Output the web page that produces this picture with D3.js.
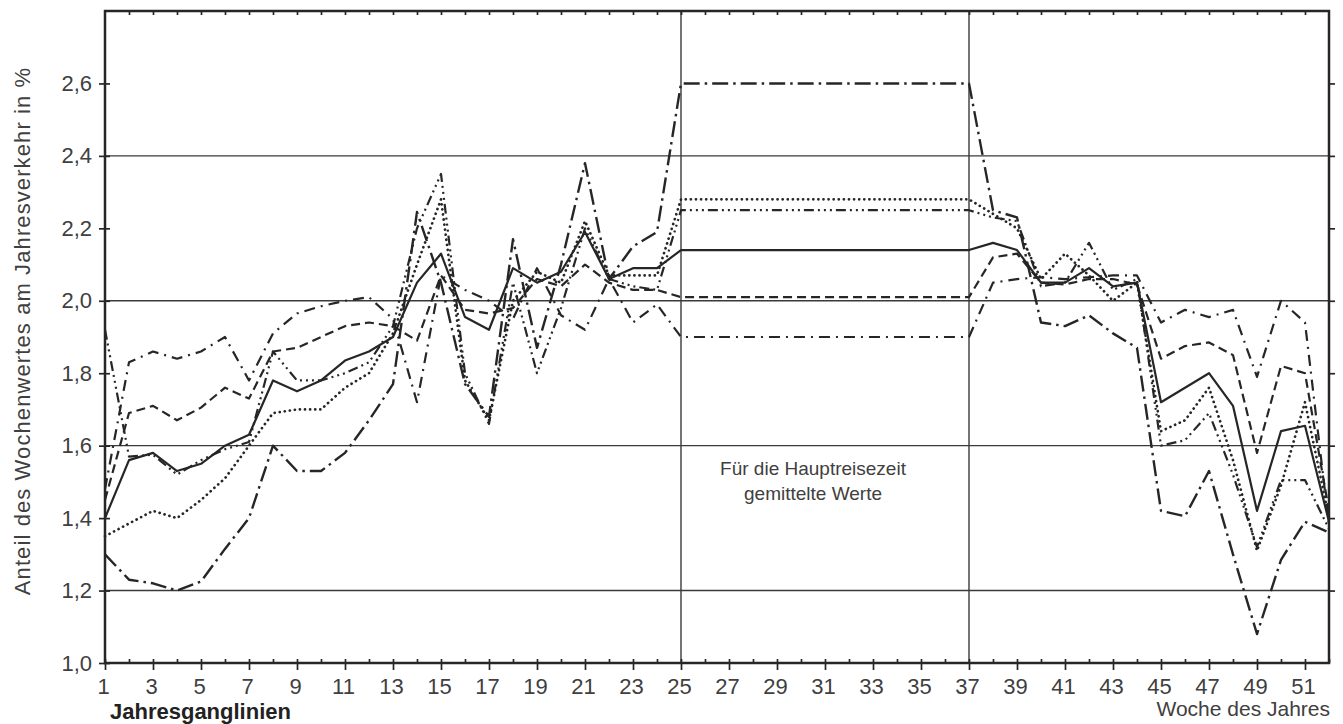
<!DOCTYPE html>
<html>
<head>
<meta charset="utf-8">
<script src="https://cdn.jsdelivr.net/npm/d3@7"></script>
<style>
  body { margin: 0; background: #fff; }
  svg text { font-family: "Liberation Sans", Arial, Helvetica, sans-serif; }
</style>
</head>
<body>
<svg id="chart"></svg>
<script>
// weeks that carry a value; 25..37 is the averaged main travel season
const weeks = [1, 2, 3, 4, 5, 6, 7, 8, 9, 10, 11, 12, 13, 14, 15, 16, 17, 18, 19, 20, 21, 22, 23, 24, 25,
  37, 38, 39, 40, 41, 42, 43, 44, 45, 46, 47, 48, 49, 50, 51, 52];

// share of the weekly value in the annual traffic, in %
const solidValues = [1.40, 1.56, 1.58, 1.53, 1.55, 1.60, 1.63, 1.78, 1.75, 1.78, 1.835, 1.86, 1.90, 2.05, 2.13, 1.955, 1.92, 2.09, 2.05, 2.08, 2.19, 2.06, 2.09, 2.09, 2.14,
  2.14, 2.16, 2.14, 2.05, 2.05, 2.09, 2.04, 2.05, 1.72, 1.76, 1.80, 1.71, 1.42, 1.64, 1.655, 1.39];
const dottedValues = [1.35, 1.385, 1.42, 1.40, 1.45, 1.51, 1.60, 1.69, 1.70, 1.70, 1.76, 1.80, 1.91, 2.10, 2.28, 1.78, 1.67, 2.00, 2.08, 2.05, 2.22, 2.07, 2.07, 2.07, 2.28,
  2.28, 2.24, 2.20, 2.06, 2.13, 2.07, 2.00, 2.05, 1.64, 1.67, 1.76, 1.56, 1.31, 1.49, 1.72, 1.40];
const dashedValues = [1.45, 1.69, 1.71, 1.67, 1.705, 1.76, 1.73, 1.86, 1.87, 1.90, 1.93, 1.94, 1.93, 1.89, 2.07, 1.975, 1.965, 1.98, 2.06, 2.04, 2.10, 2.05, 2.03, 2.03, 2.01,
  2.01, 2.12, 2.13, 2.05, 2.045, 2.06, 2.06, 2.045, 1.84, 1.875, 1.885, 1.85, 1.58, 1.82, 1.80, 1.42];
const longDashDotValues = [1.30, 1.23, 1.22, 1.20, 1.225, 1.315, 1.40, 1.60, 1.53, 1.53, 1.58, 1.67, 1.77, 2.245, 2.05, 1.77, 1.68, 2.17, 1.87, 2.10, 2.38, 2.06, 2.15, 2.19, 2.60,
  2.60, 2.25, 2.23, 1.94, 1.93, 1.96, 1.91, 1.87, 1.42, 1.405, 1.53, 1.30, 1.08, 1.285, 1.39, 1.36];
const dashDotsValues = [1.92, 1.57, 1.575, 1.52, 1.56, 1.59, 1.61, 1.86, 1.78, 1.78, 1.80, 1.83, 1.93, 2.20, 2.35, 1.80, 1.66, 2.05, 1.80, 1.98, 2.20, 2.06, 2.04, 2.03, 2.25,
  2.25, 2.23, 2.22, 2.04, 2.05, 2.16, 2.03, 2.06, 1.60, 1.615, 1.69, 1.52, 1.32, 1.505, 1.505, 1.37];
const dashDotValues = [1.48, 1.83, 1.86, 1.84, 1.86, 1.90, 1.78, 1.91, 1.965, 1.985, 2.00, 2.01, 1.95, 1.72, 2.07, 2.03, 2.00, 1.95, 2.09, 1.96, 1.92, 2.06, 1.94, 1.99, 1.90,
  1.90, 2.05, 2.06, 2.065, 2.06, 2.065, 2.07, 2.07, 1.94, 1.975, 1.955, 1.975, 1.79, 2.00, 1.94, 1.38];

const yTicks = [1.0, 1.2, 1.4, 1.6, 1.8, 2.0, 2.2, 2.4, 2.6];
const gridValues = [1.2, 1.6, 2.0, 2.4];
const xLabelWeeks = d3.range(1, 52, 2);
const seasonBounds = [25, 37];

// line styles of the six curves
const series = [
  { values: dashedValues, dash: "9,5", width: 2.2 },
  { values: dashDotValues, dash: "11,6,2,6", width: 2.2 },
  { values: dashDotsValues, dash: "10,4,2,4,2,4,2,4", width: 2.2 },
  { values: longDashDotValues, dash: "16,5,2.5,5", width: 2.4 },
  { values: dottedValues, dash: "0.1,5", width: 2.7, cap: "round" },
  { values: solidValues, dash: null, width: 2.2 }
];

const margin = { top: 11, right: 14, bottom: 61, left: 105 },
  width = 1343 - margin.left - margin.right,
  height = 724 - margin.top - margin.bottom;

const root = d3.select("#chart")
  .attr("width", width + margin.left + margin.right)
  .attr("height", height + margin.top + margin.bottom);

const svg = root.append("g")
  .attr("transform", "translate(" + margin.left + "," + margin.top + ")");

const x = d3.scaleLinear().domain([1, 52]).range([0, width]);
const y = d3.scaleLinear().domain([1.0, 2.8]).range([height, 0]);

const ink = "#262626";
const textInk = "#404040";

// horizontal grid lines
svg.append("g").selectAll("line")
  .data(gridValues).join("line")
    .attr("x1", 0).attr("x2", width)
    .attr("y1", d => y(d)).attr("y2", d => y(d))
    .attr("stroke", "#3a3a3a").attr("stroke-width", 1.4);

// borders of the averaged season
svg.append("g").selectAll("line")
  .data(seasonBounds).join("line")
    .attr("x1", d => x(d)).attr("x2", d => x(d))
    .attr("y1", 0).attr("y2", height)
    .attr("stroke", "#3a3a3a").attr("stroke-width", 1.4);

// curves
const line = d3.line()
  .x(d => x(d.week))
  .y(d => y(d.value));

svg.append("g").selectAll("path")
  .data(series).join("path")
    .attr("d", s => line(weeks.map((w, i) => ({ week: w, value: s.values[i] }))))
    .attr("fill", "none")
    .attr("stroke", ink)
    .attr("stroke-width", s => s.width)
    .attr("stroke-dasharray", s => s.dash)
    .attr("stroke-linecap", s => s.cap || "butt")
    .attr("stroke-linejoin", "round");

// axes
const fmt = d => d3.format(".1f")(d).replace(".", ",");

function styleAxis(g) {
  g.select(".domain").remove();
  g.selectAll("line").attr("stroke", ink).attr("stroke-width", 1.7);
  g.selectAll("text")
    .attr("fill", textInk)
    .attr("font-size", 22)
    .attr("font-family", "'Liberation Sans', Arial, Helvetica, sans-serif");
}

svg.append("g")
  .call(d3.axisLeft(y).tickValues(yTicks).tickFormat(fmt).tickSize(6).tickPadding(7))
  .call(styleAxis);
svg.append("g")
  .call(d3.axisLeft(y).tickValues(yTicks).tickFormat("").tickSize(-5))
  .call(styleAxis);

svg.append("g")
  .attr("transform", "translate(" + width + ",0)")
  .call(d3.axisRight(y).tickValues(yTicks.slice(1)).tickFormat("").tickSize(6))
  .call(styleAxis);

svg.append("g")
  .attr("transform", "translate(0," + height + ")")
  .call(d3.axisBottom(x).tickValues(xLabelWeeks).tickFormat(d3.format("d")).tickSize(7).tickPadding(8))
  .call(styleAxis)
  .call(g => g.selectAll("text").attr("dx", -2));
svg.append("g")
  .attr("transform", "translate(0," + height + ")")
  .call(d3.axisBottom(x).tickValues(d3.range(1, 53)).tickFormat("").tickSize(-4))
  .call(styleAxis);

svg.append("g")
  .call(d3.axisTop(x).tickValues(d3.range(2, 52)).tickFormat("").tickSize(-4))
  .call(styleAxis);

// frame
svg.append("rect")
  .attr("x", 0).attr("y", 0)
  .attr("width", width).attr("height", height)
  .attr("fill", "none")
  .attr("stroke", ink)
  .attr("stroke-width", 2.5);

// annotation for the averaged season
const noteX = x(30.5);
const note = svg.append("text")
  .attr("text-anchor", "middle")
  .attr("font-size", 19)
  .attr("fill", textInk)
  .attr("x", noteX)
  .attr("y", 464);
note.append("tspan").text("Für die Hauptreisezeit");
note.append("tspan").attr("x", noteX).attr("dy", 25).text("gemittelte Werte");

// axis titles
root.append("text")
  .attr("transform", "translate(30," + (margin.top + height / 2 - 6) + ") rotate(-90)")
  .attr("text-anchor", "middle")
  .attr("font-size", 22)
  .attr("letter-spacing", 1.1)
  .attr("fill", textInk)
  .text("Anteil des Wochenwertes am Jahresverkehr in %");

root.append("text")
  .attr("x", margin.left + width + 1)
  .attr("y", 716)
  .attr("text-anchor", "end")
  .attr("font-size", 21)
  .attr("fill", textInk)
  .text("Woche des Jahres");

root.append("text")
  .attr("x", 110)
  .attr("y", 719)
  .attr("font-size", 22)
  .attr("font-weight", "bold")
  .attr("fill", "#222")
  .text("Jahresganglinien");
</script>
</body>
</html>
